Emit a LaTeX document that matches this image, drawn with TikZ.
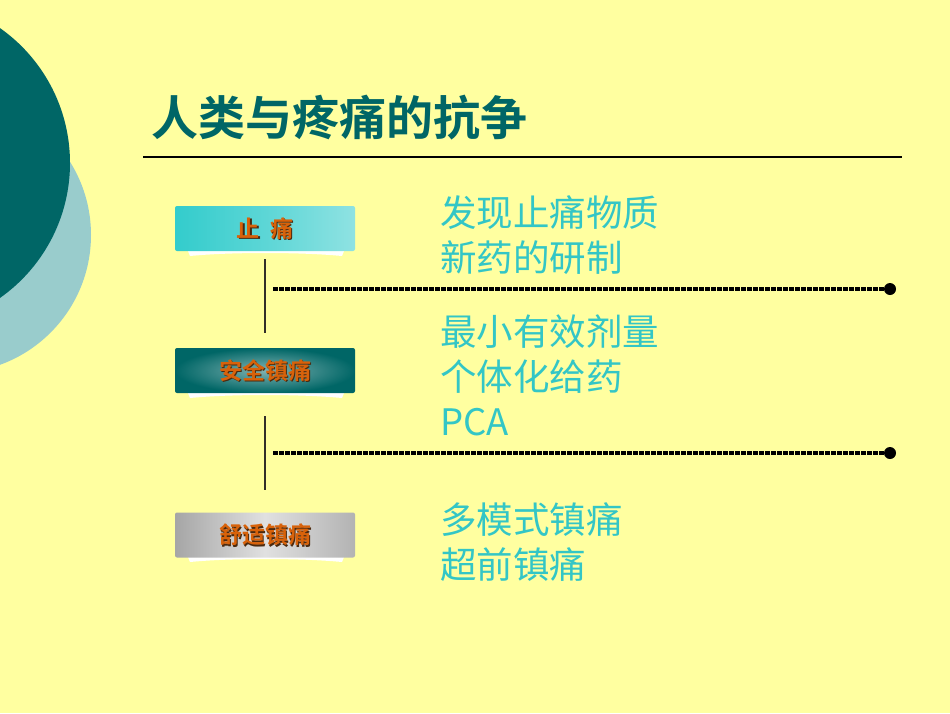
\documentclass[tikz,border=0pt]{standalone}
\usepackage{fontspec}
\newfontfamily\cjk{Noto Sans CJK SC}
\newfontfamily\cjkb{Noto Sans CJK SC Bold}
\usetikzlibrary{shapes.geometric}
\definecolor{bgy}{HTML}{FFFFA0}
\definecolor{darkteal}{HTML}{006666}
\definecolor{lightteal}{HTML}{99CCCC}
\definecolor{txtcyan}{HTML}{33C6C6}
\definecolor{lblorange}{HTML}{D8620A}
\definecolor{lblshadow}{HTML}{4A2A10}
\definecolor{cyanA}{HTML}{33CCCC}
\definecolor{cyanB}{HTML}{5CD6D6}
\definecolor{cyanC}{HTML}{8FE2E2}
\tikzset{
  boxbase/.style={minimum width=180pt, minimum height=45pt, inner sep=0pt, rounded corners=2pt},
  box1/.style={boxbase, left color=cyanA, right color=cyanC, middle color=cyanB},
  box2/.style={boxbase, inner color=darkteal!50!white, outer color=darkteal},
  box3/.style={boxbase, left color=black!35, right color=black!30, middle color=black!12},
  lbl/.style={font=\cjkb\fontsize{23pt}{25pt}\selectfont, text=lblorange, inner sep=0pt},
  lblsh/.style={font=\cjkb\fontsize{23pt}{25pt}\selectfont, text=lblshadow, inner sep=0pt},
  rtxt/.style={font=\cjk\fontsize{36.5pt}{45pt}\selectfont, text=txtcyan, anchor=west, inner sep=0pt},
  vline/.style={draw=black!85!olive, line width=1.2pt},
  dotline/.style={draw=black, line width=3.8pt, dash pattern=on 4.5pt off 1.5pt},
  enddot/.style={circle, fill=black, inner sep=0pt, minimum size=12pt},
  liftshade/.style={fill=white, draw=none}
}
\begin{document}
\begin{tikzpicture}[x=1pt,y=-1pt]
\useasboundingbox (0,0) rectangle (950,713);
\fill[bgy] (0,0) rectangle (950,713);
\begin{scope}
\clip (0,0) rectangle (950,713);
\fill[lightteal] (-47,235) circle (138);
\fill[darkteal] (-95,163) circle (165);
\end{scope}
% title
\node[font=\cjkb\fontsize{47pt}{50pt}\selectfont, text=darkteal, anchor=west, inner sep=0pt] (title) at (151,118) {人类与疼痛的抗争};
\coordinate (ruleL) at (143,157);
\coordinate (ruleR) at (902,157);
\draw[line width=1.3pt, black] (ruleL) -- (ruleR);
% boxes with lift shadows
\foreach \yy in {251,393,557}{
  \fill[liftshade] (188,\yy) -- (344,\yy) -- (342,256+\yy-251) .. controls (300,252+\yy-251) and (230,252+\yy-251) .. (190,256+\yy-251) -- cycle;
}
\node[box1] (b1) at (265,228.5) {};
\node[box2] (b2) at (265,370.5) {};
\node[box3] (b3) at (265,535) {};
\node[lblsh] (s1) at ([xshift=1.2pt,yshift=-1.2pt]b1.center) {止\hspace{0.45em}痛};
\node[lbl] (l1) at (b1.center) {止\hspace{0.45em}痛};
\node[lblsh] (s2) at ([xshift=1.2pt,yshift=-1.2pt]b2.center) {安全镇痛};
\node[lbl] (l2) at (b2.center) {安全镇痛};
\node[lblsh] (s3) at ([xshift=1.2pt,yshift=-1.2pt]b3.center) {舒适镇痛};
\node[lbl] (l3) at (b3.center) {舒适镇痛};
% vertical connectors
\coordinate (v1a) at (265,259);
\coordinate (v1b) at (265,333);
\coordinate (v2a) at (265,416);
\coordinate (v2b) at (265,490);
\draw[vline] (v1a) -- (v1b);
\draw[vline] (v2a) -- (v2b);
% dotted lines
\coordinate (d1a) at (273,289);
\node[enddot] (e1) at (890,289) {};
\coordinate (d2a) at (273,453);
\node[enddot] (e2) at (890,453) {};
\draw[dotline] (d1a) -- (e1.center);
\draw[dotline] (d2a) -- (e2.center);
% right texts
\node[rtxt] (t1) at (440,213) {发现止痛物质};
\node[rtxt] (t2) at (440,258) {新药的研制};
\node[rtxt] (t3) at (440,332) {最小有效剂量};
\node[rtxt] (t4) at (440,377) {个体化给药};
\node[rtxt] (t5) at (440,422) {PCA};
\node[rtxt] (t6) at (440,520) {多模式镇痛};
\node[rtxt] (t7) at (440,565) {超前镇痛};
\end{tikzpicture}
\end{document}
